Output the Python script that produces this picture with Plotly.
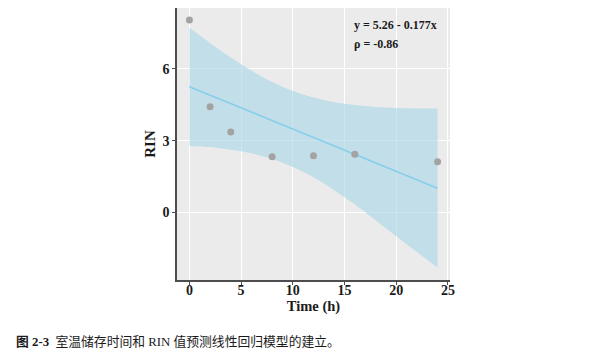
import plotly.graph_objects as go

# Observed data
time_h = [0, 2, 4, 8, 12, 16, 24]
rin = [8.05, 4.42, 3.36, 2.33, 2.37, 2.43, 2.12]

# Fitted model
intercept = 5.26
slope = -0.177

# Confidence band
band_x = [0, 2, 4, 6, 8, 10, 12, 14, 16, 18, 20, 22, 24]
band_upper = [7.72, 7.09, 6.48, 5.93, 5.45, 5.08, 4.81, 4.61, 4.49, 4.41, 4.37, 4.35, 4.35]
band_lower = [2.78, 2.73, 2.62, 2.47, 2.23, 1.90, 1.47, 0.93, 0.33, -0.33, -1.00, -1.66, -2.31]

x_ticks = [0, 5, 10, 15, 20, 25]
y_ticks = [0, 3, 6]

fit_x = [band_x[0], band_x[-1]]
fit_y = [intercept + slope * v for v in fit_x]

font_serif = "Liberation Serif, Times New Roman, serif"

# page body has an 8px margin, so figure is offset by (8, 8) in the window
W, H = 592, 348
L, R, T, B = 169, 150, 0, 76
plot_w = W - L - R
plot_h = H - T - B

def px_x(x):  # window pixel -> paper x
    return (x - 8 - L) / plot_w

def px_y(y):  # window pixel -> paper y
    return (H - B - (y - 8)) / plot_h

fig = go.Figure()
fig.add_trace(go.Scatter(x=band_x, y=band_upper, mode="lines",
                         line=dict(width=0, shape="spline"), hoverinfo="skip", showlegend=False))
fig.add_trace(go.Scatter(x=band_x, y=band_lower, mode="lines",
                         line=dict(width=0, shape="spline"), fill="tonexty",
                         fillcolor="rgba(173,216,230,0.66)", hoverinfo="skip", showlegend=False))
fig.add_trace(go.Scatter(x=fit_x, y=fit_y, mode="lines",
                         line=dict(color="#87CEEB", width=1.6), showlegend=False))
fig.add_trace(go.Scatter(x=time_h, y=rin, mode="markers",
                         marker=dict(color="#A3A3A3", size=7), showlegend=False))

axis_common = dict(
    showgrid=True, gridcolor="white", gridwidth=1.2, zeroline=False,
    showline=True, linecolor="#4d4d4d", linewidth=1.5,
    ticks="outside", ticklen=3, tickwidth=1.2, tickcolor="#4d4d4d",
    tickfont=dict(family=font_serif, size=14, color="#1a1a1a", weight="bold"),
)

fig.update_layout(
    width=W, height=H,
    margin=dict(l=L, r=R, t=T, b=B),
    paper_bgcolor="white", plot_bgcolor="#EBEBEB",
    xaxis=dict(range=[-1.2, 25.2], tickvals=x_ticks, ticklabelstandoff=-7,
               title=dict(text="<b>Time (h)</b>", font=dict(family=font_serif, size=14.5, color="#1a1a1a"), standoff=0),
               **axis_common),
    yaxis=dict(range=[-2.83, 8.55], tickvals=y_ticks,
               title=dict(text="<b>RIN</b>", font=dict(family=font_serif, size=15, color="#1a1a1a"), standoff=3),
               **axis_common),
    annotations=[
        dict(x=px_x(352), y=px_y(25), xref="paper", yref="paper", xanchor="left", yanchor="middle",
             text="<b>y = 5.26 - 0.177x</b>", showarrow=False,
             font=dict(family=font_serif, size=12, color="#1a1a1a")),
        dict(x=px_x(352), y=px_y(44.5), xref="paper", yref="paper", xanchor="left", yanchor="middle",
             text="<b>ρ = -0.86</b>", showarrow=False,
             font=dict(family=font_serif, size=12, color="#1a1a1a")),
        dict(x=px_x(14), y=px_y(341), xref="paper", yref="paper", xanchor="left", yanchor="middle",
             showarrow=False,
             text="<b>图 2-3</b>  室温储存时间和 RIN 值预测线性回归模型的建立。",
             font=dict(family="Liberation Serif, Noto Sans CJK SC", size=12.8, color="#1a1a1a")),
    ],
)

fig.write_html("out.html")
